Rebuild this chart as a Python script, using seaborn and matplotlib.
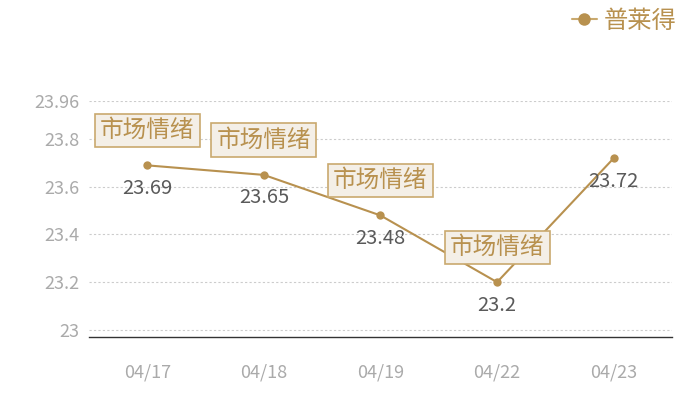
import pandas as pd
import numpy as np
import matplotlib.pyplot as plt
import seaborn as sns

# datos
fechas = ['04/17', '04/18', '04/19', '04/22', '04/23']
valores = [23.69, 23.65, 23.48, 23.2, 23.72]
serie = '普莱得'
notas = ['市场情绪', '市场情绪', '市场情绪', '市场情绪', None]
yticks = [23, 23.2, 23.4, 23.6, 23.8, 23.96]
ytick_labels = ['23', '23.2', '23.4', '23.6', '23.8', '23.96']

oro = '#b8914f'

sns.set_theme(style='white')
plt.rcParams['font.family'] = ['Noto Sans CJK SC', 'DejaVu Sans']

df = pd.DataFrame({'fecha': fechas, 'valor': valores})
df['pos'] = np.arange(len(df))

fig = plt.figure(figsize=(7, 4), dpi=100)
ax = fig.add_axes([0.127, 0.1575, 0.833, 0.59])

sns.lineplot(data=df, x='pos', y='valor', ax=ax, color=oro, linewidth=1.5,
             marker='o', markersize=6, markeredgewidth=0, label=serie, zorder=3)

ax.set_xlim(-0.5, len(df) - 0.5)
ax.set_ylim(22.97, 23.96)
ax.set_xticks(df['pos'])
ax.set_xticklabels(fechas, color='#aaaaaa', fontsize=13, fontweight='light')
ax.set_yticks(yticks)
ax.set_yticklabels(ytick_labels, color='#aaaaaa', fontsize=13, fontweight='light')
ax.tick_params(axis='both', length=0)
ax.tick_params(axis='y', pad=7)
ax.tick_params(axis='x', pad=19)
ax.set_xlabel('')
ax.set_ylabel('')

for y in yticks:
    ax.axhline(y, color='#cccccc', linewidth=0.8, linestyle=(0, (2, 2)), zorder=1)

for s in ['top', 'right', 'left']:
    ax.spines[s].set_visible(False)
ax.spines['bottom'].set_color('#333333')
ax.spines['bottom'].set_linewidth(1)

# etiquetas de valor y notas
for i, (v, nota) in enumerate(zip(valores, notas)):
    ax.annotate(f'{v:g}', (i, v), xytext=(0, -9), textcoords='offset points',
                ha='center', va='top', fontsize=14.5, color='#5a5a5a', zorder=4)
    if nota:
        ax.annotate(nota, (i, v), xytext=(0, 25), textcoords='offset points',
                    ha='center', va='center', fontsize=17, color=oro, zorder=5,
                    fontweight='light',
                    bbox=dict(boxstyle='square,pad=0.22', fc='#f4efe7', ec='#c9a96e', lw=1.2))

leg = ax.legend(loc='upper right', bbox_to_anchor=(1.008, 1.395), frameon=False,
                fontsize=17.5, handlelength=1.0, handletextpad=0.3, borderaxespad=0,
                borderpad=0)
for t in leg.get_texts():
    t.set_color(oro)
for h in leg.legend_handles:
    h.set_markersize(9)
    h.set_color('#c9a96e')
    h.set_markerfacecolor(oro)

fig.savefig('out.png', dpi=100)
